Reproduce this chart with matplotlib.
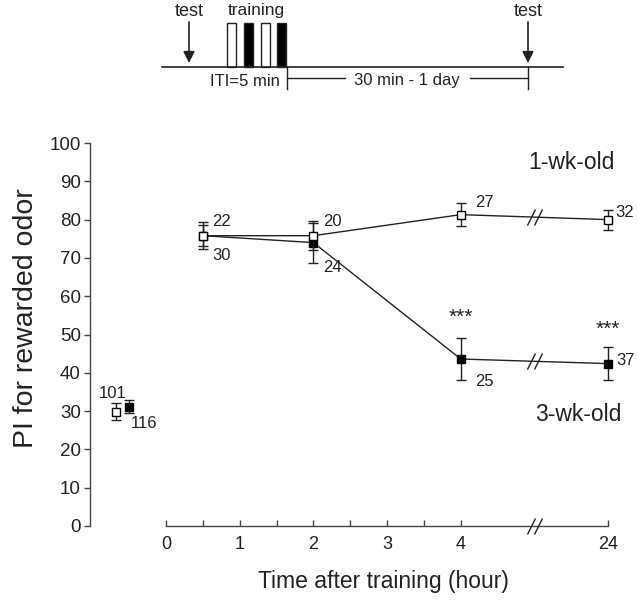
import numpy as np
import matplotlib.pyplot as plt
from matplotlib.markers import MarkerStyle
from matplotlib.transforms import Affine2D, ScaledTranslation

plt.rcParams['font.family'] = ['Liberation Sans', 'DejaVu Sans']

# time positions (24 h is drawn at position 6 after the axis break)
x_pos = [0.5, 2, 4, 6]
x_ticks = [0, 1, 2, 3, 4, 6]
x_ticklabels = ['0', '1', '2', '3', '4', '24']
break_pos = 5

# 1-wk-old (open squares)
wk1_mean = [75.8, 75.8, 81.3, 80.0]
wk1_err = [3.5, 3.8, 3.0, 2.6]
wk1_n = ['22', '20', '27', '32']

# 3-wk-old (filled squares)
wk3_mean = [75.8, 74.0, 43.6, 42.4]
wk3_err = [2.8, 5.2, 5.6, 4.3]
wk3_n = ['30', '24', '25', '37']

# naive (before training)
naive_x = [-0.68, -0.50]
naive_mean = [29.8, 31.2]
naive_err = [2.2, 1.7]
naive_n = ['101', '116']

sig_x = [4, 6]
sig_y = [54.5, 51.4]

fig = plt.figure(figsize=(6.38, 6.05), dpi=100)
ax = fig.add_axes([0.1411, 0.1306, 0.8464, 0.633])
ax.set_xlim(-1.031, 6.296)
ax.set_ylim(0, 100)

ink = '#222222'
axis_col = '#444444'

def slashes(ax, x, y, size=12):
    m = MarkerStyle('|', transform=Affine2D().rotate_deg(-25))
    for dx in (-2.2, 2.2):
        tr = ax.transData + ScaledTranslation(dx / 72, 0, fig.dpi_scale_trans)
        ax.plot([x], [y], marker=m, ms=size, mew=1.0, color=ink,
                transform=tr, clip_on=False, zorder=5)

# lines
ax.plot(x_pos, wk1_mean, '-', color=ink, lw=1.0, zorder=2)
ax.plot(x_pos, wk3_mean, '-', color=ink, lw=1.0, zorder=2)

# error bars and markers
ms = 6
eb = dict(ecolor=ink, elinewidth=1.0, capsize=3.5, capthick=1.0)
ax.errorbar(x_pos, wk3_mean, yerr=wk3_err, fmt='s', ms=ms, mfc='black',
            mec='black', zorder=3, **eb)
ax.errorbar(x_pos, wk1_mean, yerr=wk1_err, fmt='s', ms=ms, mfc='white',
            mec='black', mew=1.0, zorder=4, **eb)
ax.errorbar(naive_x[:1], naive_mean[:1], yerr=naive_err[:1], fmt='s', ms=ms,
            mfc='white', mec='black', mew=1.0, **eb)
ax.errorbar(naive_x[1:], naive_mean[1:], yerr=naive_err[1:], fmt='s', ms=ms,
            mfc='black', mec='black', **eb)

# breaks on the lines
slashes(ax, break_pos, np.interp(break_pos, x_pos, wk1_mean))
slashes(ax, break_pos, np.interp(break_pos, x_pos, wk3_mean))
slashes(ax, break_pos, 0)

# n labels
fs = 12
wk1_off = [(7, 10), (7, 10), (10, 9), (5, 5)]
wk3_off = [(7, -14), (7, -18), (10, -16), (6, 2)]
for x, y, n, o in zip(x_pos, wk1_mean, wk1_n, wk1_off):
    ax.annotate(n, (x, y), xytext=o, textcoords='offset points', fontsize=fs,
                color=ink, va='center', ha='left')
for x, y, n, o in zip(x_pos, wk3_mean, wk3_n, wk3_off):
    ax.annotate(n, (x, y), xytext=o, textcoords='offset points', fontsize=fs,
                color=ink, va='center', ha='left')
ax.annotate(naive_n[0], (naive_x[0], naive_mean[0]), xytext=(-2, 13),
            textcoords='offset points', fontsize=fs, color=ink,
            ha='center', va='center')
ax.annotate(naive_n[1], (naive_x[1], naive_mean[1]), xytext=(11, -12),
            textcoords='offset points', fontsize=fs, color=ink,
            ha='center', va='center')

for x, y in zip(sig_x, sig_y):
    ax.text(x, y, '***', ha='center', va='center', fontsize=15, color=ink)

ax.text(5.5, 94.8, '1-wk-old', ha='center', va='center', fontsize=16.5, color=ink)
ax.text(5.6, 29.0, '3-wk-old', ha='center', va='center', fontsize=16.5, color=ink)

# axes styling
for s in ['top', 'right']:
    ax.spines[s].set_visible(False)
ax.spines['left'].set_bounds(0, 100)
ax.spines['bottom'].set_bounds(0, 6)
for s in ['left', 'bottom']:
    ax.spines[s].set_color(axis_col)
    ax.spines[s].set_linewidth(1.0)
ax.set_yticks(np.arange(0, 101, 10))
ax.set_xticks(x_ticks)
ax.set_xticklabels(x_ticklabels)
ax.set_xticks([0.5, 1.5, 2.5, 3.5], minor=True)
ax.tick_params(axis='y', direction='out', length=4, width=1, color=axis_col,
               labelsize=13.5, labelcolor=ink, pad=2.5)
ax.tick_params(axis='x', which='both', direction='in', length=4, width=1,
               color=axis_col, labelsize=13, labelcolor=ink, pad=7)
ax.set_ylabel('PI for rewarded odor', fontsize=20.5, color=ink)
ax.yaxis.set_label_coords(-0.119, 0.543)
ax.yaxis.label.set_va('center')
ax.set_xlabel('Time after training (hour)', fontsize=16.5, color=ink)
ax.xaxis.set_label_coords(0.544, -0.146)
ax.xaxis.label.set_va('center')

# protocol schematic on top
top = fig.add_axes([0, 1 - 100 / 605, 1, 100 / 605])
top.set_xlim(0, 638)
top.set_ylim(100, 0)
top.axis('off')
top.plot([162, 563], [67, 67], color=ink, lw=1.2)
for xa in (189, 528):
    top.annotate('', xy=(xa, 63), xytext=(xa, 22),
                 arrowprops=dict(arrowstyle='-|>', color=ink, lw=1.2,
                                 mutation_scale=17, shrinkA=0, shrinkB=0))
    top.text(xa, 12, 'test', ha='center', va='center', fontsize=13, color=ink)
box_left = [227, 244, 261, 277]
box_fill = ['white', 'black', 'white', 'black']
for bx, bf in zip(box_left, box_fill):
    top.add_patch(plt.Rectangle((bx, 23), 8.5, 44, facecolor=bf,
                                edgecolor=ink, lw=1.0))
top.text(256, 11, 'training', ha='center', va='center', fontsize=12.5, color=ink)
top.text(245, 82, 'ITI=5 min', ha='center', va='center', fontsize=12, color=ink)
top.plot([287, 287], [67, 89], color=ink, lw=1.0)
top.plot([528, 528], [67, 89], color=ink, lw=1.0)
top.plot([287, 345], [78, 78], color=ink, lw=1.0)
top.plot([470, 528], [78, 78], color=ink, lw=1.0)
top.text(407, 80, '30 min - 1 day', ha='center', va='center', fontsize=12, color=ink)

fig.savefig('out.png', dpi=100)
